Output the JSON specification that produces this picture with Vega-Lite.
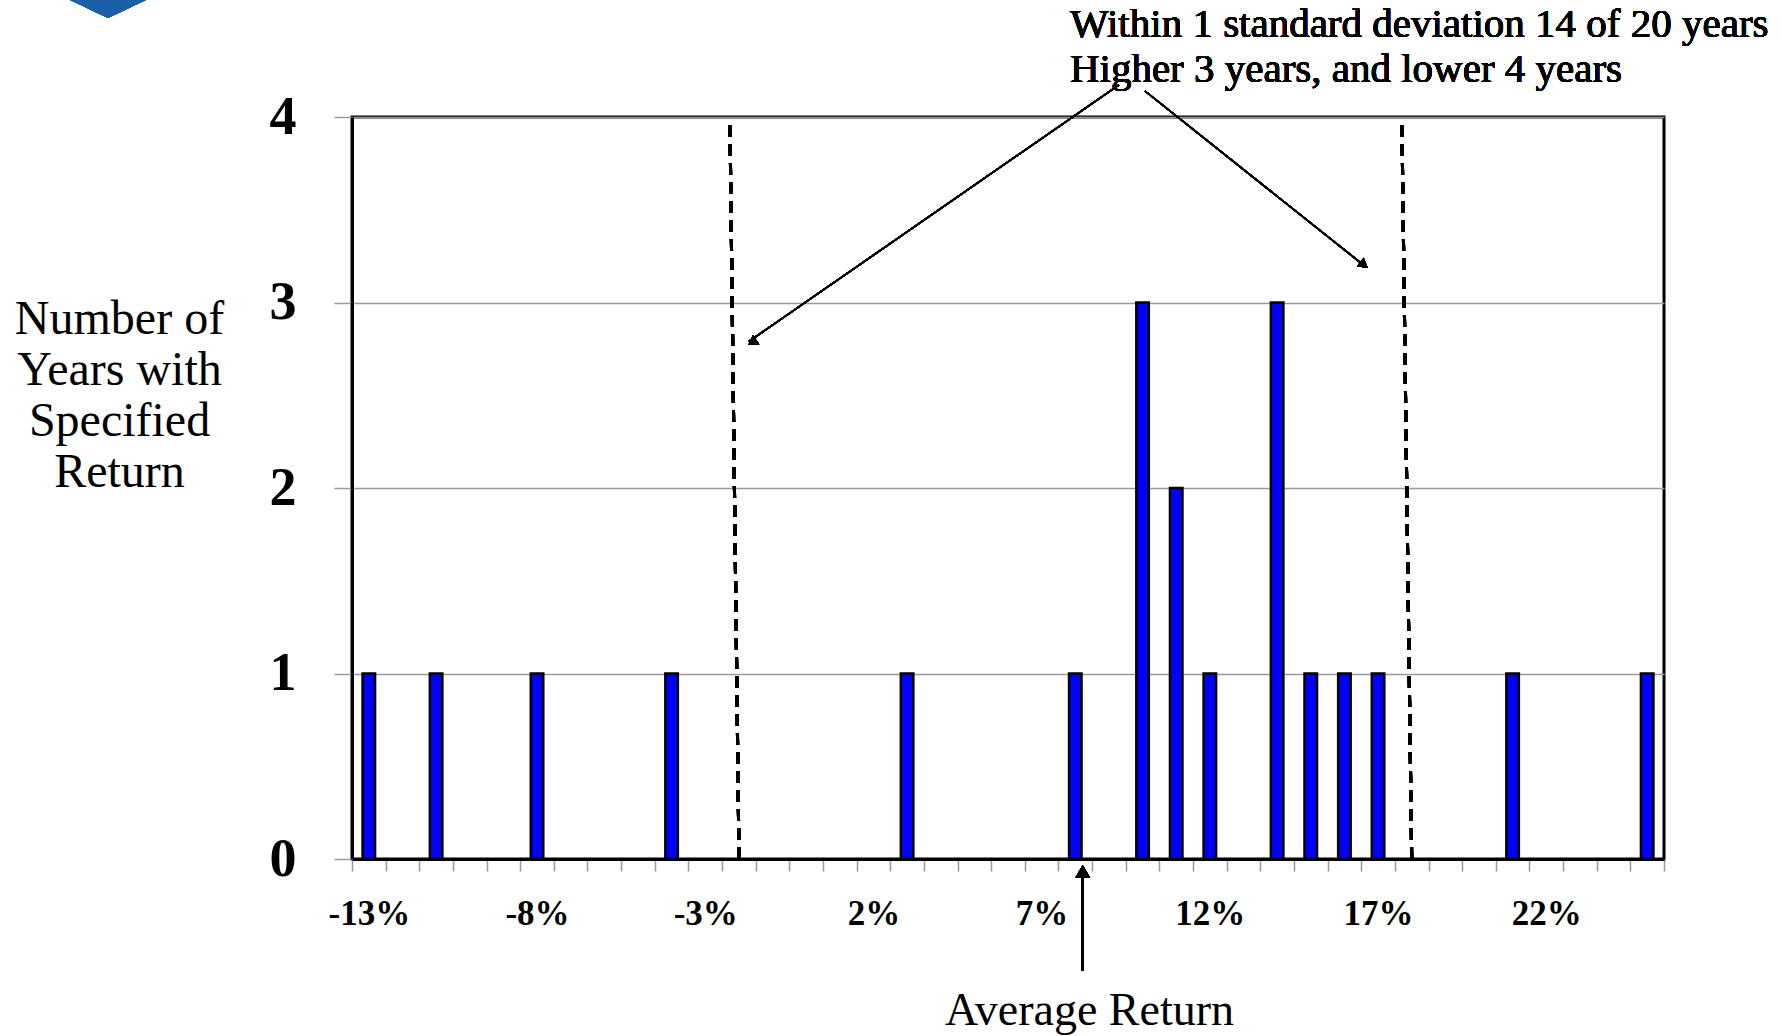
{
  "$schema": "https://vega.github.io/schema/vega-lite/v6.json",
  "width": 1312,
  "height": 742,
  "autosize": {"type": "none"},
  "padding": {"left": 352, "top": 117, "right": 117, "bottom": 177},
  "background": "white",
  "config": {"view": {"stroke": "black", "strokeWidth": 3}, "font": "Liberation Serif"},
  "data": {"values": [
    {"ret": -13, "count": 1},
    {"ret": -11, "count": 1},
    {"ret": -8, "count": 1},
    {"ret": -4, "count": 1},
    {"ret": 3, "count": 1},
    {"ret": 8, "count": 1},
    {"ret": 10, "count": 3},
    {"ret": 11, "count": 2},
    {"ret": 12, "count": 1},
    {"ret": 14, "count": 3},
    {"ret": 15, "count": 1},
    {"ret": 16, "count": 1},
    {"ret": 17, "count": 1},
    {"ret": 21, "count": 1},
    {"ret": 25, "count": 1}
  ]},
  "layer": [
    {
      "mark": {"type": "bar", "size": 12.5, "fill": "#0000ff", "stroke": "black", "strokeWidth": 2.5},
      "encoding": {
        "x": {
          "field": "ret", "type": "quantitative",
          "scale": {"domain": [-13.5, 25.5], "nice": false, "zero": false, "padding": 0},
          "axis": {
            "values": [-13.5,-12.5,-11.5,-10.5,-9.5,-8.5,-7.5,-6.5,-5.5,-4.5,-3.5,-2.5,-1.5,-0.5,0.5,1.5,2.5,3.5,4.5,5.5,6.5,7.5,8.5,9.5,10.5,11.5,12.5,13.5,14.5,15.5,16.5,17.5,18.5,19.5,20.5,21.5,22.5,23.5,24.5,25.5],
            "tickCount": 200,
            "labelExpr": "(datum.value + 13.5) % 5 == 0 ? (datum.value + 0.5) + '%' : ''",
            "labelOffset": 16.8,
            "labelFlush": false,
            "labelOverlap": false,
            "labelBound": false,
            "labelFont": "Liberation Serif",
            "labelFontWeight": "bold",
            "labelFontSize": 35,
            "labelColor": "black",
            "labelPadding": 25,
            "tickColor": "#999999",
            "tickSize": 12,
            "tickWidth": 1.5,
            "domainColor": "black",
            "domainWidth": 3,
            "grid": false,
            "title": "Average Return",
            "titleFont": "Liberation Serif",
            "titleFontSize": 46,
            "titleFontWeight": "normal",
            "titleColor": "black",
            "titleX": 737,
            "titleY": 151,
            "titleAlign": "center",
            "titleBaseline": "middle"
          }
        },
        "y": {
          "field": "count", "type": "quantitative",
          "scale": {"domain": [0, 4], "nice": false},
          "axis": {
            "values": [0, 1, 2, 3, 4],
            "format": "d",
            "labelFont": "Liberation Serif",
            "labelFontWeight": "bold",
            "labelFontSize": 54,
            "labelColor": "black",
            "labelPadding": 38,
            "tickColor": "#999999",
            "tickSize": 18,
            "tickWidth": 1.5,
            "domainColor": "black",
            "domainWidth": 3,
            "grid": true,
            "gridColor": "#999999",
            "gridWidth": 1.5,
            "title": ["Number of", "Years with", "Specified", "Return"],
            "titleFont": "Liberation Serif",
            "titleFontSize": 48,
            "titleFontWeight": "normal",
            "titleColor": "black",
            "titleAngle": 0,
            "titleX": -233,
            "titleY": 202,
            "titleAlign": "center",
            "titleBaseline": "middle",
            "titleLineHeight": 51
          }
        }
      }
    },
    {
      "mark": {"type": "rule", "strokeDash": [12, 7], "strokeWidth": 3, "color": "black"},
      "encoding": {"x": {"datum": -2.264}, "x2": {"datum": -1.996}, "y": {"datum": 3.957}, "y2": {"datum": 0}}
    },
    {
      "mark": {"type": "rule", "strokeDash": [12, 7], "strokeWidth": 3, "color": "black"},
      "encoding": {"x": {"datum": 17.71}, "x2": {"datum": 18.0}, "y": {"datum": 3.957}, "y2": {"datum": 0}}
    },
    {
      "mark": {"type": "rule", "strokeWidth": 1.5, "color": "black"},
      "encoding": {"x": {"datum": 9.30}, "x2": {"datum": -1.70}, "y": {"datum": 4.173}, "y2": {"datum": 2.79}}
    },
    {
      "mark": {"type": "rule", "strokeWidth": 1.5, "color": "black"},
      "encoding": {"x": {"datum": 10.07}, "x2": {"datum": 16.65}, "y": {"datum": 4.14}, "y2": {"datum": 3.19}}
    },
    {
      "mark": {"type": "rule", "strokeWidth": 2.5, "color": "black"},
      "encoding": {"x": {"datum": 8.22}, "x2": {"datum": 8.22}, "y": {"datum": -0.6}, "y2": {"datum": -0.08}}
    },
    {
      "mark": {"type": "point", "shape": "triangle-up", "filled": true, "color": "black", "opacity": 1, "size": 225, "angle": 0},
      "encoding": {"x": {"datum": 8.22}, "y": {"datum": -0.0668}}
    },
    {
      "mark": {"type": "point", "shape": "triangle-up", "filled": true, "color": "black", "opacity": 1, "size": 121, "angle": 234.9},
      "encoding": {"x": {"datum": -1.604}, "y": {"datum": 2.785}}
    },
    {
      "mark": {"type": "point", "shape": "triangle-up", "filled": true, "color": "black", "opacity": 1, "size": 121, "angle": 128.5},
      "encoding": {"x": {"datum": 16.583}, "y": {"datum": 3.202}}
    },
    {
      "mark": {"type": "text", "text": ["Within 1 standard deviation 14 of 20 years", "Higher 3 years, and lower 4 years"], "align": "left", "baseline": "middle", "font": "Liberation Serif", "fontSize": 41, "fontWeight": "normal", "lineHeight": 45, "color": "black"},
      "encoding": {"x": {"datum": 7.84}, "y": {"datum": 4.496}}
    },
    {
      "mark": {"type": "point", "shape": "M-4.2,-2L4.2,-2L0,0Z", "filled": true, "color": "#1a5fa8", "opacity": 1, "size": 324, "strokeWidth": 0},
      "encoding": {"x": {"datum": -20.753}, "y": {"datum": 4.534}}
    }
  ]
}
